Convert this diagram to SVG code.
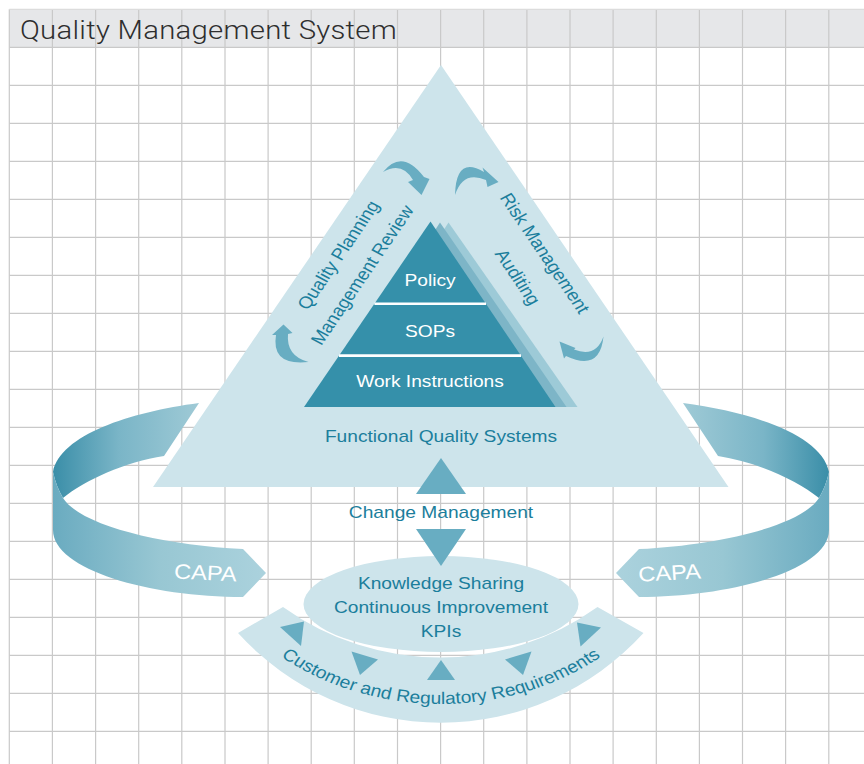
<svg xmlns="http://www.w3.org/2000/svg" width="864" height="764" viewBox="0 0 864 764">
  <defs>
    <style>
      .grid{fill:none;stroke:#c9c9c9;stroke-width:1.2}
      .pale{fill:#cde4eb}
      .accent{fill:#68adc2}
      .txt{font-family:"Liberation Sans",Arial,Helvetica,sans-serif;font-size:17px;fill:#1b7e9c}
      .inv{fill:#ffffff}
      .capa{font-family:"Liberation Sans",Arial,Helvetica,sans-serif;font-size:21px;fill:#ffffff}
      .title{font-family:Roboto,"Liberation Sans",Arial,sans-serif;font-weight:300;font-size:26px;fill:#2e2e2e}
      .sep{stroke:#ffffff;stroke-width:2.6}
    </style>
    <!-- ribbon shading: back half darkest at the fold, front half lighter -->
    <linearGradient id="ribbonBack" gradientUnits="userSpaceOnUse" x1="53" y1="0" x2="199" y2="0">
      <stop offset="0" stop-color="#3a8ea8"/>
      <stop offset="0.45" stop-color="#7ab5c7"/>
      <stop offset="1" stop-color="#9fcad6"/>
    </linearGradient>
    <linearGradient id="ribbonFront" gradientUnits="userSpaceOnUse" x1="53" y1="0" x2="266" y2="0">
      <stop offset="0" stop-color="#6aabc0"/>
      <stop offset="0.5" stop-color="#98c7d3"/>
      <stop offset="1" stop-color="#abd2dd"/>
    </linearGradient>
    <!-- baseline for the lower arc label (local, pre-stretch coordinates) -->
    <path id="arcBaseline" d="M-237,467 A237,237 0 0 0 237,467"/>
  </defs>

  <!-- page background and grid -->
  <rect width="864" height="764" fill="#ffffff"/>
  <rect x="9.3" y="9.3" width="855" height="38" fill="#e6e7e9"/>
  <path class="grid" d="M9.3,9.3V764 M52.4,9.3V764 M95.6,9.3V764 M138.7,9.3V764 M181.8,9.3V764 M225,9.3V764 M268.1,9.3V764 M311.2,9.3V764 M354.3,9.3V764 M397.5,9.3V764 M440.6,9.3V764 M483.7,9.3V764 M526.9,9.3V764 M570,9.3V764 M613.1,9.3V764 M656.3,9.3V764 M699.4,9.3V764 M742.5,9.3V764 M785.6,9.3V764 M828.8,9.3V764"/>
  <path class="grid" d="M9.3,47.3H864 M9.3,85.3H864 M9.3,123.3H864 M9.3,161.3H864 M9.3,199.3H864 M9.3,237.3H864 M9.3,275.3H864 M9.3,313.3H864 M9.3,351.3H864 M9.3,389.3H864 M9.3,427.3H864 M9.3,465.3H864 M9.3,503.3H864 M9.3,541.3H864 M9.3,579.3H864 M9.3,617.3H864 M9.3,655.3H864 M9.3,693.3H864 M9.3,731.3H864"/>
  <path d="M9.3,9.3H864" fill="none" stroke="#dcdcdc" stroke-width="1.2"/>

  <text class="title" transform="translate(20,39.3) scale(1.128,1)" textLength="334" lengthAdjust="spacing">Quality Management System</text>

  <!-- CAPA loops -->
  <g id="capa-left">
    <path fill="url(#ribbonBack)" d="M199,403 C130,412 60,435 53,472 Q56,486 63,498 C85,480 125,462 164,456 Z"/>
    <path fill="url(#ribbonFront)" d="M53,472 L53,530 C53,570 150,597 243,597 L266,573 L243,549 C160,545 80,525 63,498 Q56,486 53,472 Z"/>
    <text class="capa" transform="translate(205,580) scale(1.128,1) rotate(3)" text-anchor="middle">CAPA</text>
  </g>
  <g id="capa-right">
    <g transform="translate(882,0) scale(-1,1)">
      <path fill="url(#ribbonBack)" d="M199,403 C130,412 60,435 53,472 Q56,486 63,498 C85,480 125,462 164,456 Z"/>
      <path fill="url(#ribbonFront)" d="M53,472 L53,530 C53,570 150,597 243,597 L266,573 L243,549 C160,545 80,525 63,498 Q56,486 53,472 Z"/>
    </g>
    <text class="capa" transform="translate(670,580) scale(1.128,1) rotate(-3.5)" text-anchor="middle">CAPA</text>
  </g>

  <!-- functional quality systems triangle -->
  <g id="functional-quality-systems">
    <polygon class="pale" points="441,65 728.5,487 153,487"/>
    <text class="txt" transform="translate(441,442) scale(1.128,1)" text-anchor="middle">Functional Quality Systems</text>
  </g>

  <!-- document pyramid -->
  <g id="document-pyramid">
    <polygon fill="#9dcad7" points="448.5,222.5 577.5,407 330,407"/>
    <polygon fill="#7db5c7" points="440,222.5 566.5,407 320,407"/>
    <polygon fill="#3590aa" points="430.5,221.5 555.5,407 304,407"/>
    <line class="sep" x1="374.4" y1="303.8" x2="486" y2="303.8"/>
    <line class="sep" x1="339" y1="355.6" x2="521" y2="355.6"/>
    <text class="txt inv" transform="translate(430,286) scale(1.128,1)" text-anchor="middle">Policy</text>
    <text class="txt inv" transform="translate(430,337) scale(1.128,1)" text-anchor="middle">SOPs</text>
    <text class="txt inv" transform="translate(430,386.5) scale(1.128,1)" text-anchor="middle">Work Instructions</text>
  </g>

  <!-- cycle labels along the triangle sides -->
  <g id="planning-review">
    <text class="txt" transform="translate(338,255) scale(1.128,1) rotate(-58.8)" y="6" text-anchor="middle">Quality Planning</text>
    <text class="txt" transform="translate(362,275) scale(1.128,1) rotate(-58.8)" y="6" text-anchor="middle">Management Review</text>
  </g>
  <g id="risk-auditing">
    <text class="txt" transform="translate(545,253) scale(1.128,1) rotate(58.8)" y="6" text-anchor="middle">Risk Management</text>
    <text class="txt" transform="translate(518,277) scale(1.128,1) rotate(58.8)" y="6" text-anchor="middle">Auditing</text>
  </g>

  <!-- circulating arrows -->
  <g id="cycle-arrows" class="accent">
    <path d="M383,172 Q402,148 424,177 L429.5,179 L421.5,195 L408,182 L413,180 Q402,161 383,172 Z"/>
    <path d="M455,195 Q456,155 484,172 L482.5,167.5 L498.5,182 L487.5,187 L486,180 Q463,170 455,195 Z"/>
    <path d="M272,335 L283.5,324.5 L292.5,333 L288,334 Q286,356 308.5,362 Q271,366 276,335 Z"/>
    <path d="M559.5,341.5 L575.5,348 L574,349.5 Q596,358 603.5,336.5 Q600,372 566,356 L564,358.5 Z"/>
  </g>

  <!-- knowledge / improvement hub -->
  <g id="improvement-hub">
    <ellipse class="pale" cx="441" cy="604" rx="137.5" ry="48"/>
    <text class="txt" transform="translate(441,589) scale(1.128,1)" text-anchor="middle">Knowledge Sharing</text>
    <text class="txt" transform="translate(441,613) scale(1.128,1)" text-anchor="middle">Continuous Improvement</text>
    <text class="txt" transform="translate(441,637) scale(1.128,1)" text-anchor="middle">KPIs</text>
  </g>

  <!-- change management link between the triangle and the hub -->
  <g id="connectors" class="accent">
    <polygon points="441,458 466,494 416,494"/>
    <polygon points="416,529 466,529 441,566"/>
  </g>
  <text id="change-management" class="txt" transform="translate(441,517.5) scale(1.128,1)" text-anchor="middle">Change Management</text>

  <!-- requirements arc -->
  <g id="requirements">
    <path class="pale" d="M238,633 A274,274 0 0 0 643.5,633 L597.5,607 A270,270 0 0 1 283,607 Z"/>
    <g class="accent">
      <polygon points="280,627 304,621.5 301,646"/>
      <polygon points="351.5,651.5 378,659.5 360,675"/>
      <polygon points="441,660 455,680 427,680"/>
      <polygon points="505,659.5 531.5,651.5 523,675"/>
      <polygon points="577,622.5 601,627.5 580.5,646.5"/>
    </g>
    <g transform="translate(441,0) scale(1.128,1)">
      <text class="txt" font-size="16.8"><textPath href="#arcBaseline" startOffset="50%" text-anchor="middle">Customer and Regulatory Requirements</textPath></text>
    </g>
  </g>
</svg>
